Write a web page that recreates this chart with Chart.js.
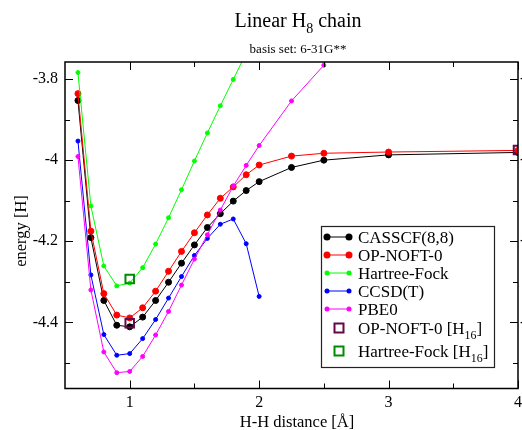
<!DOCTYPE html>
<html>
<head>
<meta charset="utf-8">
<script src="https://cdn.jsdelivr.net/npm/chart.js@4.4.0/dist/chart.umd.min.js"></script>
<style>
  body { margin: 0; background: #fff; }
  canvas { display: block; }
</style>
</head>
<body>
<canvas id="chart" width="522" height="430"></canvas>
<script>
// H-H distance [Angstrom] and energies [Hartree]
const distances = [0.6, 0.7, 0.8, 0.9, 1.0, 1.1, 1.2, 1.3, 1.4, 1.5, 1.6, 1.7, 1.8, 1.9, 2.0, 2.25, 2.5, 3.0, 4.0];
const casscf = [-3.853, -4.191, -4.346, -4.407, -4.411, -4.387, -4.346, -4.301, -4.254, -4.209, -4.166, -4.132, -4.101, -4.075, -4.053, -4.018, -4.000, -3.987, -3.981];
const opNoft = [-3.836, -4.175, -4.329, -4.382, -4.389, -4.364, -4.323, -4.274, -4.225, -4.179, -4.135, -4.094, -4.066, -4.036, -4.012, -3.990, -3.983, -3.980, -3.976];

const hfDistances = [0.6, 0.7, 0.8, 0.9, 1.0, 1.1, 1.2, 1.3, 1.4, 1.5, 1.6, 1.7, 1.8, 1.9, 2.0];
const hartreeFock = [-3.784, -4.113, -4.261, -4.310, -4.303, -4.265, -4.207, -4.142, -4.073, -4.002, -3.933, -3.866, -3.801, -3.736, -3.672];

const ccsdDistances = [0.6, 0.7, 0.8, 0.9, 1.0, 1.1, 1.2, 1.3, 1.4, 1.5, 1.6, 1.7, 1.8, 1.9, 2.0];
const ccsdT = [-3.953, -4.283, -4.430, -4.481, -4.477, -4.440, -4.393, -4.340, -4.287, -4.235, -4.193, -4.158, -4.145, -4.206, -4.336];

const pbeDistances = [0.6, 0.7, 0.8, 0.9, 1.0, 1.1, 1.2, 1.3, 1.4, 1.5, 1.6, 1.7, 1.8, 1.9, 2.0, 2.25, 2.5];
const pbe0 = [-3.991, -4.320, -4.473, -4.524, -4.521, -4.484, -4.431, -4.373, -4.308, -4.244, -4.184, -4.123, -4.064, -4.013, -3.964, -3.854, -3.766];

// H16 results (per H8 unit)
const h16NoftDistances = [1.0, 4.0];
const h16Noft = [-4.402, -3.975];
const h16HfDistances = [1.0];
const h16Hf = [-4.293];

const xTicks = [1, 2, 3, 4];
const xMinorTicks = [1.5, 2.5, 3.5];
const yTicks = [-3.8, -4, -4.2, -4.4];
const yMinorTicks = [-3.9, -4.1, -4.3, -4.5];

const legendLabels = ['CASSCF(8,8)', 'OP-NOFT-0', 'Hartree-Fock', 'CCSD(T)', 'PBE0', 'OP-NOFT-0 [H_{16}]', 'Hartree-Fock [H_{16}]'];

const SERIF = '"Liberation Serif", "Times New Roman", serif';

function toPoints(xs, ys) {
    return xs.map(function(x, i) { return { x: x, y: ys[i] }; });
}

function lineSet(label, xs, ys, color, big, order) {
    return {
        label: label,
        data: toPoints(xs, ys),
        borderColor: color,
        backgroundColor: color,
        borderWidth: 1,
        pointRadius: big ? 3 : 2,
        pointBorderWidth: 1,
        pointBorderColor: color,
        pointBackgroundColor: color,
        showLine: true,
        order: order
    };
}

function squareSet(label, xs, ys, color, order) {
    return {
        label: label,
        data: toPoints(xs, ys),
        borderColor: color,
        backgroundColor: 'rgba(0,0,0,0)',
        showLine: false,
        pointStyle: 'rect',
        pointRadius: 6,
        pointBorderWidth: 2,
        pointBorderColor: color,
        pointBackgroundColor: 'rgba(0,0,0,0)',
        order: order
    };
}

// Draw text with _{..} subscripts
function drawRich(ctx, text, x, baseline, size, align) {
    const parts = [];
    const re = /_\{([^}]*)\}/g;
    let last = 0, m;
    while ((m = re.exec(text))) {
        parts.push({ t: text.slice(last, m.index), sub: false });
        parts.push({ t: m[1], sub: true });
        last = re.lastIndex;
    }
    parts.push({ t: text.slice(last), sub: false });

    let total = 0;
    parts.forEach(function(p) {
        ctx.font = (p.sub ? size * 0.7 : size) + 'px ' + SERIF;
        p.w = ctx.measureText(p.t).width;
        total += p.w;
    });
    let cx = align === 'center' ? x - total / 2 : x;
    ctx.textAlign = 'left';
    ctx.textBaseline = 'alphabetic';
    parts.forEach(function(p) {
        ctx.font = (p.sub ? size * 0.7 : size) + 'px ' + SERIF;
        ctx.fillText(p.t, cx, baseline + (p.sub ? size * 0.3 : 0));
        cx += p.w;
    });
}

const framePlugin = {
    id: 'frame',
    afterDraw: function(chart) {
        const ctx = chart.ctx;
        const area = chart.chartArea;
        const xs = chart.scales.x;
        const ys = chart.scales.y;

        ctx.save();
        ctx.strokeStyle = '#000';
        ctx.fillStyle = '#000';

        // frame
        ctx.lineWidth = 1.5;
        ctx.strokeRect(area.left, area.top, area.right - area.left, area.bottom - area.top);

        // inward ticks on all four sides
        ctx.lineWidth = 1;
        ctx.beginPath();
        function xTick(v, len) {
            const px = Math.round(xs.getPixelForValue(v)) + 0.5;
            ctx.moveTo(px, area.bottom); ctx.lineTo(px, area.bottom - len);
            ctx.moveTo(px, area.top); ctx.lineTo(px, area.top + len);
        }
        function yTick(v, len) {
            const py = Math.round(ys.getPixelForValue(v)) + 0.5;
            ctx.moveTo(area.left, py); ctx.lineTo(area.left + len, py);
            ctx.moveTo(area.right, py); ctx.lineTo(area.right - len, py);
        }
        xTicks.forEach(function(v) { xTick(v, 8); });
        xMinorTicks.forEach(function(v) { xTick(v, 5); });
        yTicks.forEach(function(v) { yTick(v, 8); });
        yMinorTicks.forEach(function(v) { yTick(v, 5); });
        ctx.stroke();

        // right-hand tick labels (cut by the page edge)
        ctx.font = '16px ' + SERIF;
        ctx.textAlign = 'left';
        ctx.textBaseline = 'middle';
        yTicks.forEach(function(v) {
            ctx.fillText(String(v), area.right + 2, ys.getPixelForValue(v));
        });

        // titles
        drawRich(ctx, 'Linear H_{8} chain', 298, 27, 20, 'center');
        drawRich(ctx, 'basis set: 6-31G**', 298, 53, 13, 'center');
        drawRich(ctx, 'H-H distance [\u00c5]', 297, 427, 16.5, 'center');
        ctx.save();
        ctx.translate(26, 231);
        ctx.rotate(-Math.PI / 2);
        drawRich(ctx, 'energy [H]', 0, 0, 16.5, 'center');
        ctx.restore();

        // legend box
        const bx = 321, by = 226, bw = 173, bh = 141;
        ctx.fillStyle = '#fff';
        ctx.fillRect(bx, by, bw, bh);
        ctx.lineWidth = 1.2;
        ctx.strokeStyle = '#222';
        ctx.strokeRect(bx + 0.5, by + 0.5, bw, bh);

        const rows = [237, 255, 273, 291, 309, 328, 351];
        chart.data.datasets.forEach(function(ds, i) {
            const y = rows[i];
            ctx.strokeStyle = ds.borderColor;
            ctx.fillStyle = ds.borderColor;
            if (ds.showLine) {
                ctx.lineWidth = 1;
                ctx.beginPath();
                ctx.moveTo(327, y); ctx.lineTo(349, y);
                ctx.stroke();
                [327, 349].forEach(function(px) {
                    ctx.beginPath();
                    ctx.arc(px, y, ds.pointRadius + 0.5, 0, Math.PI * 2);
                    ctx.fill();
                });
            } else {
                ctx.lineWidth = 2;
                ctx.strokeRect(334.5, y - 4.5, 9, 9);
            }
            ctx.fillStyle = '#000';
            drawRich(ctx, legendLabels[i], 358, y + 6, 17, 'left');
        });

        ctx.restore();
    }
};

const tickFont = { family: SERIF, size: 16 };

new Chart(document.getElementById('chart').getContext('2d'), {
    type: 'line',
    data: {
        datasets: [
            lineSet('CASSCF(8,8)', distances, casscf, '#000000', true, 7),
            lineSet('OP-NOFT-0', distances, opNoft, '#ff0000', true, 6),
            lineSet('Hartree-Fock', hfDistances, hartreeFock, '#00ff00', false, 5),
            lineSet('CCSD(T)', ccsdDistances, ccsdT, '#0000ff', false, 4),
            lineSet('PBE0', pbeDistances, pbe0, '#ff00ff', false, 3),
            squareSet('OP-NOFT-0 [H16]', h16NoftDistances, h16Noft, '#670748', 2),
            squareSet('Hartree-Fock [H16]', h16HfDistances, h16Hf, '#008b00', 1)
        ]
    },
    options: {
        responsive: false,
        animation: false,
        devicePixelRatio: 1,
        layout: { autoPadding: false, padding: { top: 62, right: 4, left: 0, bottom: 0 } },
        plugins: {
            legend: { display: false },
            tooltip: { enabled: false },
            title: { display: false }
        },
        scales: {
            x: {
                type: 'linear',
                min: 0.5,
                max: 4.0,
                afterBuildTicks: function(scale) {
                    scale.ticks = xTicks.map(function(v) { return { value: v }; });
                },
                afterFit: function(scale) {
                    scale.height = 41.5;
                    scale.paddingLeft = 0;
                    scale.paddingRight = 0;
                },
                grid: { display: false, drawTicks: false },
                border: { display: false },
                ticks: {
                    padding: 5,
                    color: '#000',
                    font: tickFont,
                    autoSkip: false,
                    maxRotation: 0,
                    callback: function(v) { return String(v); }
                }
            },
            y: {
                type: 'linear',
                min: -4.563,
                max: -3.758,
                afterBuildTicks: function(scale) {
                    scale.ticks = yTicks.map(function(v) { return { value: v }; });
                },
                afterFit: function(scale) {
                    scale.width = 65;
                    scale.paddingTop = 0;
                    scale.paddingBottom = 0;
                },
                grid: { display: false, drawTicks: false },
                border: { display: false },
                ticks: {
                    padding: 7,
                    color: '#000',
                    font: tickFont,
                    autoSkip: false,
                    callback: function(v) { return String(v); }
                }
            }
        }
    },
    plugins: [framePlugin]
});
</script>
</body>
</html>
